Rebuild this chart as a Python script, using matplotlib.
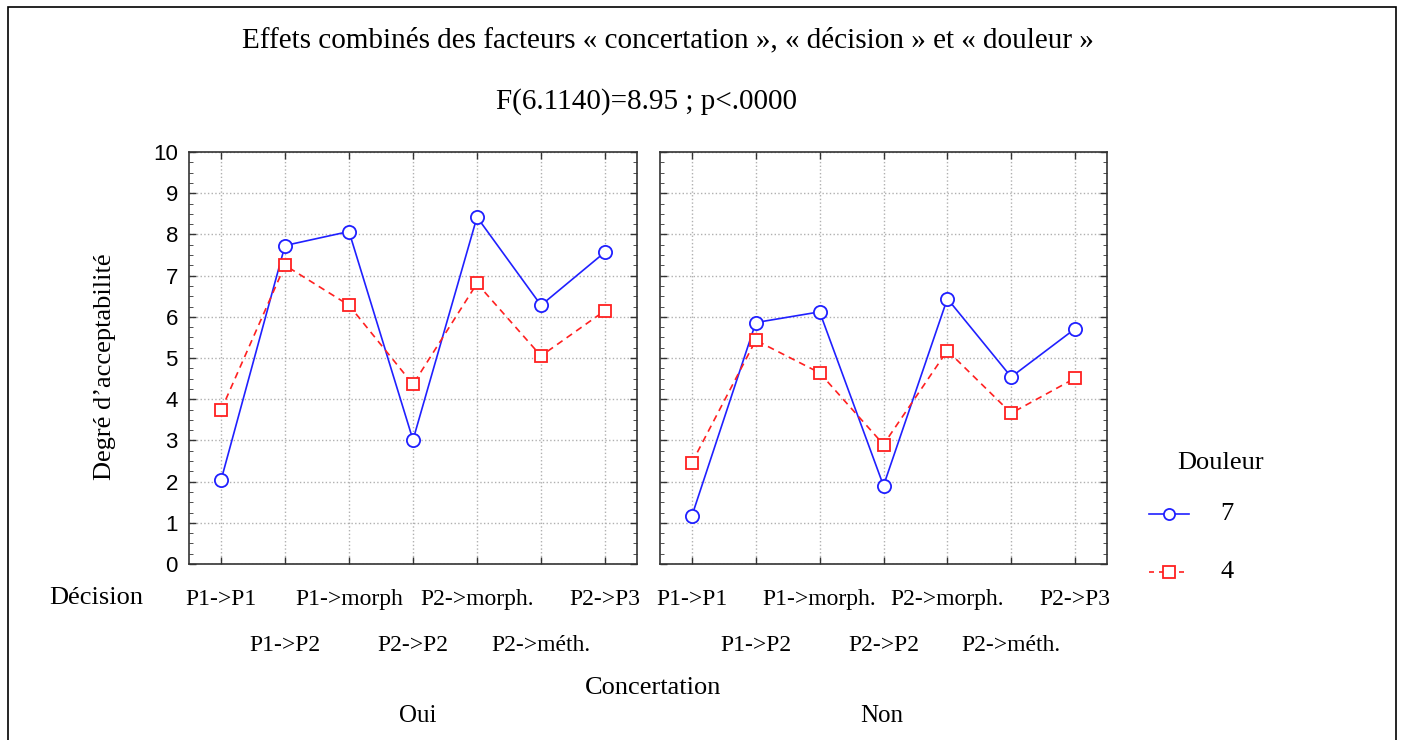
import matplotlib.pyplot as plt
from matplotlib.patches import Rectangle
from matplotlib.lines import Line2D
from matplotlib.ticker import MultipleLocator

# Données
decisions_oui = ["P1->P1", "P1->P2", "P1->morph", "P2->P2", "P2->morph.", "P2->méth.", "P2->P3"]
decisions_non = ["P1->P1", "P1->P2", "P1->morph.", "P2->P2", "P2->morph.", "P2->méth.", "P2->P3"]
oui_douleur7 = [2.03, 7.73, 8.07, 3.01, 8.42, 6.28, 7.57]
oui_douleur4 = [3.73, 7.25, 6.28, 4.36, 6.81, 5.05, 6.15]
non_douleur7 = [1.17, 5.86, 6.12, 1.90, 6.44, 4.54, 5.71]
non_douleur4 = [2.46, 5.43, 4.64, 2.90, 5.18, 3.66, 4.51]
concertation = ["Oui", "Non"]
douleur = ["7", "4"]

W, H = 1402, 740
fig = plt.figure(figsize=(W / 100, H / 100), dpi=100)
serif = "Liberation Serif"
sans = "Liberation Sans"

def px(x, y):
    return x / W, 1 - y / H

ax1 = fig.add_axes([189 / W, 1 - 564 / H, 448 / W, 412 / H])
ax2 = fig.add_axes([660 / W, 1 - 564 / H, 447 / W, 412 / H])

bleu = "#2020ff"
rouge = "#ff2020"

panneaux = [(ax1, decisions_oui, oui_douleur7, oui_douleur4),
            (ax2, decisions_non, non_douleur7, non_douleur4)]
for ax, labels, d7, d4 in panneaux:
    x = range(1, len(labels) + 1)
    ax.plot(x, d7, color=bleu, lw=1.2, marker="o", ms=9.5, mfc="white",
            mec=bleu, mew=1.3, zorder=3)
    ax.plot(x, d4, color=rouge, lw=1.2, ls=(0, (4, 3)), marker="s", ms=9,
            mfc="white", mec=rouge, mew=1.3, zorder=3)
    ax.set_xlim(0.5, len(labels) + 0.5)
    ax.set_ylim(0, 10)
    ax.set_xticks(list(x))
    ax.set_xticklabels(labels, fontfamily=serif, fontsize=17)
    ax.yaxis.set_major_locator(MultipleLocator(1))
    ax.yaxis.set_minor_locator(MultipleLocator(0.25))
    ax.grid(True, color="#b0b0b0", ls=":", lw=1, zorder=0)
    ax.tick_params(direction="in", top=True, right=True, length=5,
                   color="#333333", width=1)
    ax.tick_params(which="minor", direction="in", left=True, right=True,
                   length=3, color="#333333")
    for sp in ax.spines.values():
        sp.set_color("#333333")
        sp.set_linewidth(1.2)
    for i, t in enumerate(ax.xaxis.get_major_ticks()):
        t.set_pad(18 if i % 2 == 0 else 51)

ax1.set_yticks(range(0, 11))
ax1.set_yticklabels([str(v) for v in range(0, 11)], fontfamily=sans, fontsize=16)
ax1.tick_params(axis="y", pad=8)
ax2.tick_params(axis="y", labelleft=False)

fig.text(*px(668, 40), "Effets combinés des facteurs « concertation », « décision » et « douleur »",
         ha="center", va="center", fontfamily=serif, fontsize=21)
fig.text(*px(646, 102), "F(6.1140)=8.95 ; p<.0000",
         ha="center", va="center", fontfamily=serif, fontsize=21)
fig.text(*px(105, 367), "Degré d’acceptabilité", rotation=90,
         ha="center", va="center", fontfamily=serif, fontsize=19)
fig.text(*px(96, 598), "Décision", ha="center", va="center", fontfamily=serif, fontsize=19)
fig.text(*px(653, 688), "Concertation", ha="center", va="center", fontfamily=serif, fontsize=19)
fig.text(*px(418, 716), concertation[0], ha="center", va="center", fontfamily=serif, fontsize=18)
fig.text(*px(882, 716), concertation[1], ha="center", va="center", fontfamily=serif, fontsize=18)

# légende
fig.text(*px(1221, 463), "Douleur", ha="center", va="center", fontfamily=serif, fontsize=19)
leg_y = [514, 572]
styles = [dict(color=bleu, ls="-", marker="o"),
          dict(color=rouge, ls=(0, (3, 3)), marker="s")]
for lab, yy, st in zip(douleur, leg_y, styles):
    x0, y0 = px(1149, yy)
    x1, _ = px(1189, yy)
    fig.add_artist(Line2D([x0, x1], [y0, y0], lw=1.2, color=st["color"],
                          ls=st["ls"], transform=fig.transFigure))
    fig.add_artist(Line2D([(x0 + x1) / 2], [y0], lw=0, ms=8, mew=1.3,
                          marker=st["marker"], mfc="white", mec=st["color"],
                          transform=fig.transFigure))
    fig.text(*px(1227, yy), lab, ha="center", va="center", fontfamily=serif, fontsize=19)

# cadre extérieur
fig.add_artist(Rectangle((8 / W, -0.05), 1388 / W, 1.05 - 7 / H, fill=False,
                         ec="black", lw=1.2, transform=fig.transFigure, clip_on=False))

fig.savefig("out.png", dpi=100)
